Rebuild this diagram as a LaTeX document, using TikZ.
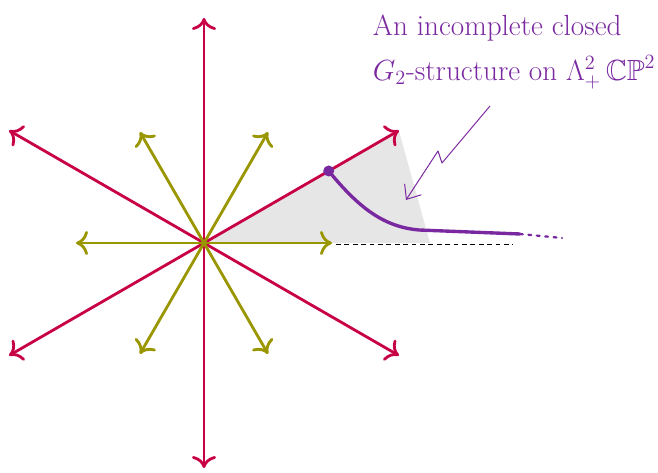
\documentclass[tikz,border=0pt]{standalone}
\usepackage{amsmath,amssymb}
\usepackage{xcolor}
\usetikzlibrary{arrows.meta, positioning, calc}

\definecolor{rosered}{RGB}{200,0,70}
\definecolor{olivegreen}{RGB}{154,150,0}
\definecolor{notepurple}{RGB}{122,40,160}
\definecolor{wedgegray}{RGB}{230,230,230}

\begin{document}
\begin{tikzpicture}[
        x=0.025cm, y=0.025cm,
        redray/.style={rosered, line width=2pt, line cap=round, -{Computer Modern Rightarrow[length=3mm, width=6mm, line width=2pt]}},
        oliveray/.style={olivegreen, line width=2pt, line cap=round, -{Computer Modern Rightarrow[length=3mm, width=6mm, line width=2pt]}},
        curve/.style={notepurple, line width=2.4pt, line cap=round},
        pointer/.style={notepurple, line width=0.7pt, line join=round, -{Straight Barb[length=3mm, width=5mm]}},
        axisdots/.style={black, line width=0.6pt, dash pattern=on 1.2mm off 0.9mm}
    ]
    \useasboundingbox (-204,-230) rectangle (454,243);

    \coordinate (O) at (0,0);
    \coordinate (w) at (226,0);

    % shaded wedge
    \fill[wedgegray] (O) -- (30:225) -- (w) -- cycle;
    \coordinate (d1) at (132,-1);
    \coordinate (d2) at (309,-1);
    \draw[axisdots] (d1) -- (d2);

    % rays
    \foreach \a in {30,90,...,330} {
        \coordinate (r\a) at (\a:225);
        \draw[redray] (O) -- (r\a);
    }
    \foreach \a in {0,60,...,300} {
        \coordinate (g\a) at (\a:128);
        \draw[oliveray] (O) -- (g\a);
    }

    % the incomplete structure
    \coordinate (p) at (30:144);
    \coordinate (q) at (215,13);
    \coordinate (e) at (316,9);
    \coordinate (f) at (358,5);
    \draw[curve] (p) .. controls (155,35) and (180,16) .. (q) -- (e);
    \draw[curve, line width=1.6pt, dash pattern=on 2pt off 4pt] (e) -- (f);
    \fill[notepurple] (p) circle (5.5);

    \node[notepurple, font=\huge, align=left, anchor=north west] (note) at (164,233)
        {An incomplete closed\\[7pt] $G_2$-structure on $\Lambda^2_{+}\,\mathbb{CP}^2$};
    \coordinate (s) at (286,137);
    \draw[pointer] (s) -- (238,80) -- (234,92) -- (202,43);

\end{tikzpicture}
\end{document}
